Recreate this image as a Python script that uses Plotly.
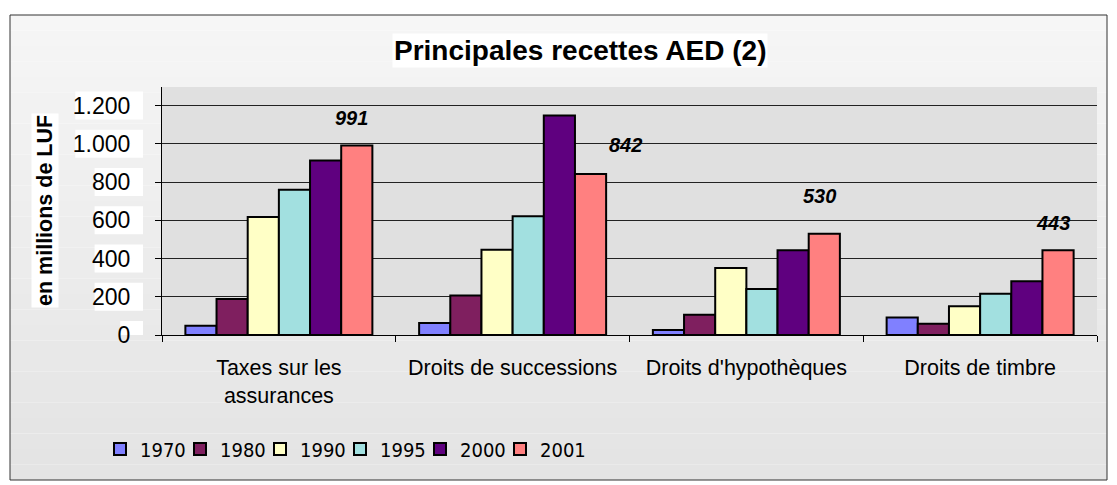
import plotly.graph_objects as go

categories = ["Taxes sur les<br>assurances", "Droits de successions", "Droits d'hypothèques", "Droits de timbre"]
years = ["1970", "1980", "1990", "1995", "2000", "2001"]
v1970 = [49, 63, 26, 92]
v1980 = [188, 207, 106, 59]
v1990 = [617, 446, 350, 150]
v1995 = [760, 621, 240, 216]
v2000 = [912, 1148, 443, 281]
v2001 = [991, 842, 530, 443]
series = [v1970, v1980, v1990, v1995, v2000, v2001]
colors = ["#8080ff", "#7f1f5f", "#ffffc6", "#a2e0e0", "#5f007f", "#ff8080"]
tick_vals = [0, 200, 400, 600, 800, 1000, 1200]
tick_text = ["0", "200", "400", "600", "800", "1.000", "1.200"]
label_dx = [-5, 35, -5, -5]
label_dy = [28, 29, 38, 27]

# the page body has an 8px margin: page coords = figure coords + 8
OFF = 8
PAGE_W, PAGE_H = 1117, 485
PL, PR, PT, PB = 162, 1097, 87, 335      # plot area in page coords
W, H = PAGE_W - OFF, PAGE_H - OFF
L, T = PL - OFF, PT - OFF
R, B = PAGE_W - PR, PAGE_H - PB
pw, ph = PR - PL, PB - PT
FONT = "Liberation Sans, Arial, sans-serif"

def px_x(x):
    return (x - PL) / pw

def px_y(y):
    return (PB - y) / ph

fig = go.Figure()
for name, vals, col in zip(years, series, colors):
    fig.add_trace(go.Bar(
        x=categories, y=vals, name=name,
        marker=dict(color=col, line=dict(color="black", width=2)),
    ))
# invisible spacer legend entry so the last legend label is not clipped
fig.add_trace(go.Scatter(x=categories[:1], y=[0], mode="markers", name=" ", showlegend=True,
                         marker=dict(color="rgba(0,0,0,0)", size=1, line=dict(width=0)),
                         hoverinfo="skip"))

shapes = []
# gradient frame background
n = 30
top, bot = 15, 480
for i in range(n):
    y0 = top + (bot - top) * i / n
    y1 = top + (bot - top) * (i + 1) / n
    g = int(246 - (246 - 228) * i / (n - 1))
    shapes.append(dict(type="rect", xref="paper", yref="paper", layer="below",
                       x0=px_x(10), x1=px_x(1107), y0=px_y(y1), y1=px_y(y0),
                       line=dict(width=0), fillcolor=f"rgb({g},{g},{g})"))
shapes.append(dict(type="rect", xref="paper", yref="paper", layer="below",
                   x0=px_x(10), x1=px_x(1107), y0=px_y(bot), y1=px_y(top),
                   line=dict(color="#333", width=1), fillcolor="rgba(0,0,0,0)"))
# plot area fill
shapes.append(dict(type="rect", xref="paper", yref="paper", layer="below",
                   x0=0, x1=1, y0=0, y1=1, line=dict(width=0), fillcolor="#e0e0e0"))
# white boxes behind y tick labels
for v, t in zip(tick_vals, tick_text):
    wbox = sum(6.5 if ch == "." else 12.8 for ch in t) + 10
    shapes.append(dict(type="rect", xref="paper", yref="y", layer="below",
                       x0=px_x(143 - wbox), x1=px_x(143),
                       ysizemode="pixel", yanchor=v, y0=-14, y1=14,
                       line=dict(width=0), fillcolor="white"))

annotations = [
    dict(text="<b>Principales recettes AED (2)</b>", xref="paper", yref="paper",
         x=px_x(580), y=px_y(50), xanchor="center", yanchor="middle",
         showarrow=False, bgcolor="white",
         font=dict(family=FONT, size=28, color="black")),
    dict(text="<b>en millions de LUF</b>", xref="paper", yref="paper",
         x=px_x(45), y=px_y(211), xanchor="center", yanchor="middle",
         showarrow=False, textangle=-90, bgcolor="white",
         font=dict(family=FONT, size=21.5, color="black")),
]
offset = (len(years) - 1 - (len(years) - 1) / 2) * (pw / len(categories) * 0.8 / len(years))
for c, v, dx, dy in zip(categories, v2001, label_dx, label_dy):
    annotations.append(dict(
        text=f"<b><i>{v}</i></b>", x=c, y=v, xref="x", yref="y",
        showarrow=False, xshift=offset + dx, yshift=dy, xanchor="center", yanchor="middle",
        font=dict(family=FONT, size=20, color="black")))

fig.update_layout(
    width=W, height=H,
    margin=dict(l=L, r=R, t=T, b=B, autoexpand=False),
    paper_bgcolor="white", plot_bgcolor="rgba(0,0,0,0)",
    barmode="group", bargap=0.2, bargroupgap=0,
    shapes=shapes, annotations=annotations,
    showlegend=True,
    legend=dict(orientation="h", x=px_x(100), y=px_y(449), yanchor="middle", xanchor="left",
                bgcolor="rgba(0,0,0,0)", itemwidth=30, entrywidth=35, traceorder="normal",
                font=dict(family="DejaVu Sans Condensed, Liberation Sans Narrow, Liberation Sans", size=20, color="black")),
    font=dict(family=FONT, color="black"),
)
fig.update_yaxes(range=[0, 1297], tickvals=tick_vals, ticktext=tick_text,
                 showgrid=True, gridcolor="#222", gridwidth=1,
                 showline=True, linecolor="black", linewidth=1,
                 ticks="outside", ticklen=6, tickcolor="black",
                 ticklabelstandoff=20, zeroline=False,
                 tickfont=dict(family=FONT, size=23, color="black"))
fig.update_xaxes(showline=True, linecolor="black", linewidth=1,
                 ticks="outside", tickson="boundaries", ticklen=6, tickcolor="black",
                 ticklabelstandoff=13,
                 tickfont=dict(family=FONT, size=21.5, color="black"))

fig.write_html("out.html")
